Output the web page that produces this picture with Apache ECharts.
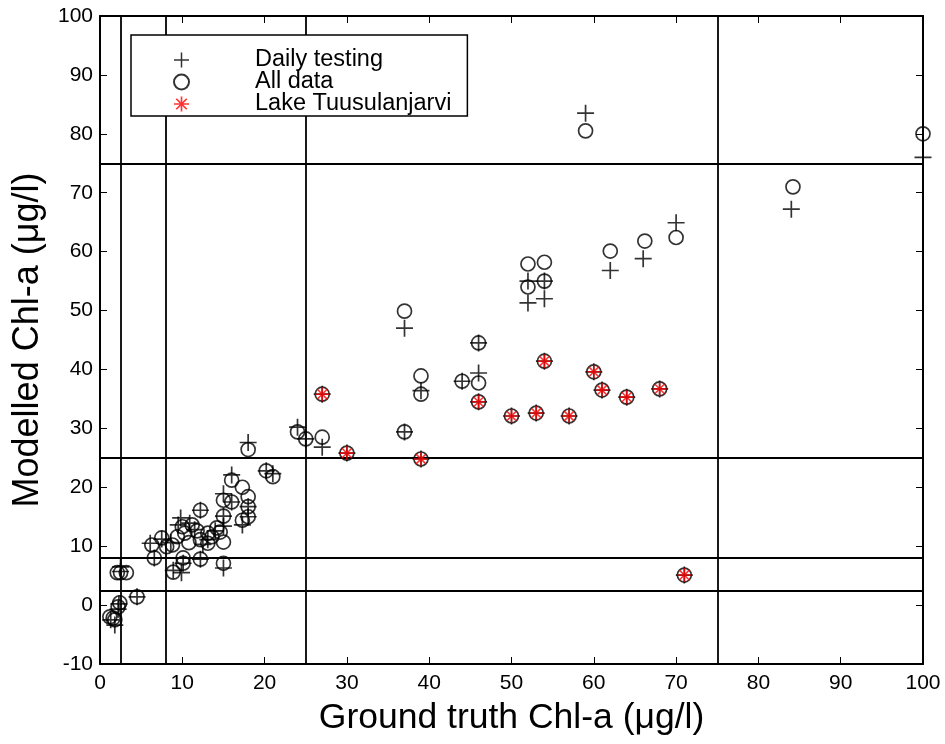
<!DOCTYPE html>
<html lang="en">
<head>
<meta charset="UTF-8">
<title>Modelled vs ground truth Chl-a</title>
<script src="https://cdn.jsdelivr.net/npm/echarts@6/dist/echarts.min.js"></script>
<style>
  html, body { margin: 0; padding: 0; background: #fff; }
  #main { width: 945px; height: 744px; }
</style>
</head>
<body>
<div id="main"></div>
<script>
// trophic class limits drawn as reference lines (ug/l)
var limits = [2.5, 8, 25, 75];

// "+" daily testing
var dailyTesting = [
  [59, 83.5], [100, 76], [84, 67.2], [70, 64.9], [66, 58.8], [62, 56.8],
  [52, 55], [54, 55], [52, 51.3], [54, 52], [46, 44.5], [46, 39.4], [44, 38],
  [39, 36.4], [37, 47], [37, 29.4], [27, 26.8], [24, 30.2], [25, 28.2],
  [18, 27.6], [20.2, 22.8], [21, 22.3], [16, 22.1], [15, 18.9], [16, 17.5],
  [18, 16.7], [18, 15], [15, 15.1], [15, 13.4], [15, 6.3], [17.3, 13.6],
  [12.2, 16.1], [9.5, 13.6], [10.9, 13.9], [9.8, 14.8], [13.1, 11.1],
  [12.2, 7.8], [10.1, 7.1], [9.9, 5.5], [8.9, 5.9], [7.5, 11.2], [6.1, 10.5],
  [6.6, 8], [8.6, 10.6], [11.5, 12.8], [12.5, 10.3], [14, 12.6],
  [2.5, 6.5], [2.5, 5.7], [4.5, 1.4], [2.3, 0.2], [2.2, -0.7], [1.8, -3.4], [1.3, -2.5],
  [27, 35.8], [30, 25.8], [39, 24.8], [46, 34.5], [50, 32.1], [53, 32.6],
  [57, 32.1], [54, 41.4], [60, 39.6], [61, 36.5], [64, 35.3], [68, 36.7], [71, 5.1]
];

// "o" all data
var allData = [
  [59, 80.5], [100, 80], [84.2, 71], [70, 62.4], [66.2, 61.8], [62, 60.1],
  [54, 58.2], [52, 57.9], [52, 54], [54, 55], [46, 44.5], [46, 37.7], [44, 38],
  [39, 38.9], [39, 35.8], [37, 49.9], [37, 29.4], [27, 28.5], [24, 29.4],
  [25, 28.2], [18, 26.4], [20.2, 22.8], [21, 21.8], [16, 21.2], [17.3, 20],
  [18, 18.4], [18, 16.7], [18, 15], [15, 17.8], [16, 17.5], [15, 15.1],
  [15, 10.7], [15, 7.1], [17.3, 14.4], [12.2, 16.1], [10, 13.3], [11.2, 13.6],
  [10.3, 12.2], [13.1, 12.2], [13.1, 10.5], [14.2, 13.1], [12.2, 11.1],
  [12.2, 7.8], [10.1, 8], [10.1, 7.1], [8.9, 5.6], [7.5, 11.4], [6.3, 10.2],
  [6.6, 8], [8.1, 9.9], [8.8, 10.2], [9.4, 11.6], [2.5, 5.5], [3.2, 5.5],
  [2.1, 5.5], [4.5, 1.4], [2.4, 0.4], [2.2, -0.3], [1.2, -2], [1.8, -2.5], [1.6, -2.2],
  [11.8, 12.6], [13.6, 11.6], [10.8, 10.6], [14.6, 12.4],
  [27, 35.8], [30, 25.8], [39, 24.8], [46, 34.5], [50, 32.1], [53, 32.6],
  [57, 32.1], [54, 41.4], [60, 39.6], [61, 36.5], [64, 35.3], [68, 36.7], [71, 5.1]
];

// red "*" Lake Tuusulanjarvi
var lakeTuusula = [
  [27, 35.8], [30, 25.8], [39, 24.8], [46, 34.5], [50, 32.1], [53, 32.6],
  [57, 32.1], [54, 41.4], [60, 39.6], [61, 36.5], [64, 35.3], [68, 36.7], [71, 5.1]
];

var plusPath = 'path://M0,9H20V11H0Z M9,0H11V20H9Z';
var starPath = 'path://M0,8.9H20V11.1H0Z M8.9,0H11.1V20H8.9Z' +
  ' M2.2,3.8L3.8,2.2L17.8,16.2L16.2,17.8Z M16.2,2.2L17.8,3.8L3.8,17.8L2.2,16.2Z';

var font = 'Liberation Sans, Arial, sans-serif';
var black = '#000';

function frameAxis(extra) {
  var base = {
    type: 'value',
    axisLine: { onZero: false, lineStyle: { color: black, width: 2 } },
    axisTick: { inside: true, length: 7, lineStyle: { color: black, width: 1 } },
    splitLine: { show: false }
  };
  for (var k in extra) base[k] = extra[k];
  return base;
}

var chart = echarts.init(document.getElementById('main'));

var option = {
  animation: false,
  backgroundColor: '#fff',
  grid: { left: 100, right: 22, top: 16, bottom: 80 },
  legend: {
    orient: 'vertical',
    left: 131,
    top: 35,
    padding: [13, 16, 0, 42],
    itemGap: -2,
    itemWidth: 15,
    itemHeight: 15,
    backgroundColor: '#fff',
    borderColor: black,
    borderWidth: 1.5,
    z: 10,
    selectedMode: false,
    formatter: function (name) { return '{t|' + name + '}'; },
    textStyle: {
      rich: {
        t: { fontFamily: font, fontSize: 23.5, color: black, padding: [0, 0, 0, 61], lineHeight: 21 }
      }
    },
    data: ['Daily testing', 'All data', 'Lake Tuusulanjarvi']
  },
  xAxis: [
    frameAxis({
      min: 0, max: 100, interval: 10,
      name: 'Ground truth Chl-a (\u03bcg/l)', nameLocation: 'middle', nameGap: 36,
      nameTextStyle: { fontFamily: font, fontSize: 35.5, color: black },
      axisLabel: { fontFamily: font, fontSize: 21, color: black, margin: 9 }
    }),
    frameAxis({ min: 0, max: 100, interval: 10, position: 'top', axisLabel: { show: false } })
  ],
  yAxis: [
    frameAxis({
      min: -10, max: 100, interval: 10,
      name: 'Modelled Chl-a (\u03bcg/l)', nameLocation: 'middle', nameGap: 54,
      nameTextStyle: { fontFamily: font, fontSize: 36, color: black },
      axisLabel: { fontFamily: font, fontSize: 21, color: black, margin: 7 }
    }),
    frameAxis({ min: -10, max: 100, interval: 10, position: 'right', axisLabel: { show: false } })
  ],
  series: [{
    name: 'Daily testing',
    type: 'scatter',
    symbol: plusPath,
    symbolSize: 17,
    itemStyle: { color: black },
    data: dailyTesting,
    z: 3,
    markLine: {
      silent: true,
      symbol: 'none',
      label: { show: false },
      lineStyle: { color: black, width: 1.8, type: 'solid' },
      data: limits.map(function (v) { return { xAxis: v }; })
        .concat(limits.map(function (v) { return { yAxis: v }; }))
    }
  }, {
    name: 'All data',
    type: 'scatter',
    symbol: 'circle',
    symbolSize: 14,
    itemStyle: { color: 'rgba(0,0,0,0)', borderColor: black, borderWidth: 1.7 },
    data: allData,
    z: 4
  }, {
    name: 'Lake Tuusulanjarvi',
    type: 'scatter',
    symbol: starPath,
    symbolSize: 14,
    itemStyle: { color: '#ff0000' },
    data: lakeTuusula,
    z: 5
  }]
};

chart.setOption(option);
</script>
</body>
</html>
